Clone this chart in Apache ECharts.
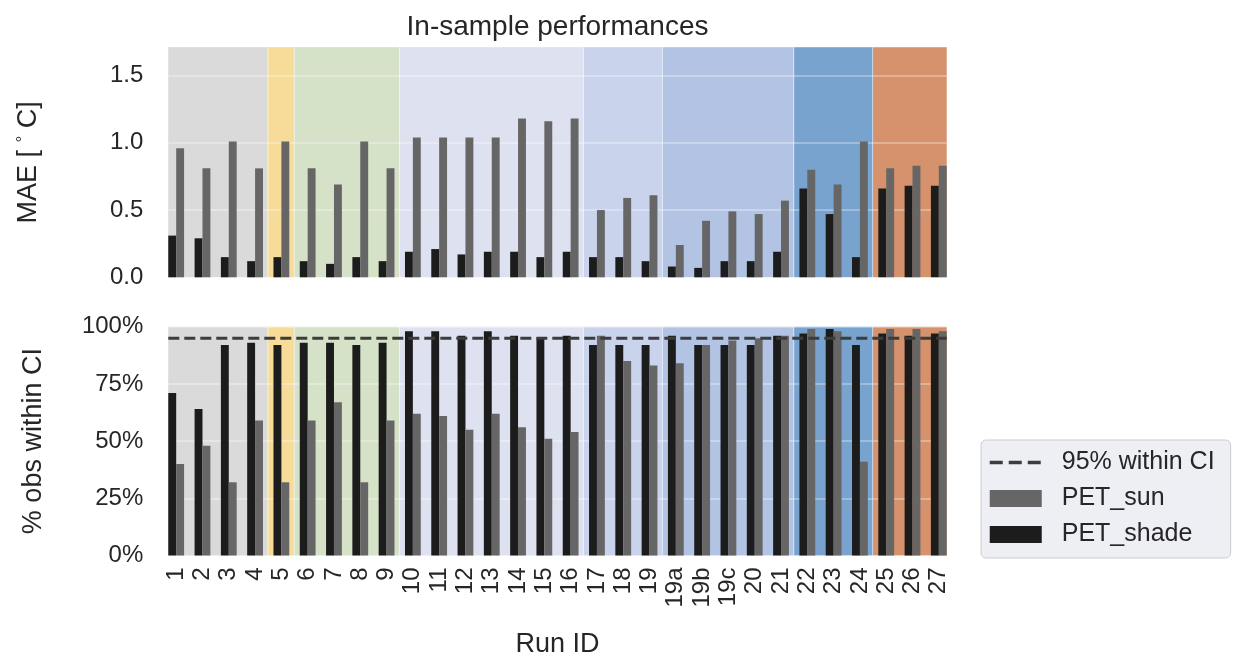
<!DOCTYPE html>
<html>
<head>
<meta charset="utf-8">
<title>In-sample performances</title>
<script src="https://cdn.jsdelivr.net/npm/echarts@6/dist/echarts.min.js"></script>
<style>
  html, body { margin: 0; padding: 0; background: #ffffff; }
  #chart { width: 1233px; height: 654px; }
</style>
</head>
<body>
<div id="chart"></div>
<script>
// Run identifiers along the x axis
const runIds = ['1', '2', '3', '4', '5', '6', '7', '8', '9', '10', '11', '12', '13', '14', '15', '16',
  '17', '18', '19', '19a', '19b', '19c', '20', '21', '22', '23', '24', '25', '26', '27'];

// Mean absolute error [°C]
const maeShade = [0.31, 0.29, 0.15, 0.12, 0.15, 0.12, 0.10, 0.15, 0.12, 0.19, 0.21, 0.17, 0.19, 0.19, 0.15, 0.19,
  0.15, 0.15, 0.12, 0.08, 0.07, 0.12, 0.12, 0.19, 0.66, 0.47, 0.15, 0.66, 0.68, 0.68];
const maeSun = [0.96, 0.81, 1.01, 0.81, 1.01, 0.81, 0.69, 1.01, 0.81, 1.04, 1.04, 1.04, 1.04, 1.18, 1.16, 1.18,
  0.50, 0.59, 0.61, 0.24, 0.42, 0.49, 0.47, 0.57, 0.80, 0.69, 1.01, 0.81, 0.83, 0.83];

// Share of observations inside the confidence interval
const ciShade = [0.71, 0.64, 0.92, 0.93, 0.92, 0.93, 0.93, 0.92, 0.93, 0.98, 0.98, 0.96, 0.98, 0.96, 0.95, 0.96,
  0.92, 0.92, 0.92, 0.96, 0.92, 0.92, 0.92, 0.96, 0.97, 0.99, 0.92, 0.97, 0.96, 0.97];
const ciSun = [0.40, 0.48, 0.32, 0.59, 0.32, 0.59, 0.67, 0.32, 0.59, 0.62, 0.61, 0.55, 0.62, 0.56, 0.51, 0.54,
  0.96, 0.85, 0.83, 0.84, 0.92, 0.94, 0.95, 0.96, 0.99, 0.98, 0.41, 0.99, 0.99, 0.98];

// Target coverage
const ciTarget = 0.95;

// First run of each group of runs (shaded bands)
const groupFirstRuns = ['1', '5', '6', '10', '17', '19a', '22', '25'];

// Tick values
const maeTicks = [0, 0.5, 1.0, 1.5];
const ciTicks = [0, 0.25, 0.5, 0.75, 1.0];

// ---- styling ----
const bandColors = ['#DADADA', '#F6DC98', '#D5E2C8', '#DEE2F0', '#C9D3EB', '#B2C3E4', '#78A3CE', '#D6926C'];
const FONT = "'Liberation Sans', Arial, sans-serif";
const TXT = '#262626';
const X_MIN = -0.3, X_MAX = runIds.length - 1 + 0.3;

// group index ranges [first, last, group]
const groupRanges = groupFirstRuns.map((r, i) => {
  const a = runIds.indexOf(r);
  const b = i + 1 < groupFirstRuns.length ? runIds.indexOf(groupFirstRuns[i + 1]) - 1 : runIds.length - 1;
  return [a, b, i];
});

const xIdx = runIds.map((_, i) => i);
const pairs = (vals) => vals.map((v, i) => [i, v]);

function bandSeries(g) {
  return {
    type: 'custom',
    xAxisIndex: g, yAxisIndex: g,
    z: 1, silent: true,
    encode: { x: [0, 1] },
    data: groupRanges,
    renderItem(params, api) {
      const cs = params.coordSys;
      const x0 = Math.max(api.value(0) - 0.5, X_MIN);
      const x1 = Math.min(api.value(1) + 0.5, X_MAX);
      const left = api.coord([x0, 0])[0];
      const right = api.coord([x1, 0])[0];
      const k = api.value(2);
      const children = [{
        type: 'rect',
        shape: { x: left, y: cs.y, width: right - left, height: cs.height },
        style: { fill: bandColors[k] }
      }];
      if (k < groupRanges.length - 1) {
        children.push({
          type: 'line',
          shape: { x1: right, y1: cs.y, x2: right, y2: cs.y + cs.height },
          style: { stroke: 'rgba(255,255,255,0.75)', lineWidth: 1.5 }
        });
      }
      return { type: 'group', children };
    }
  };
}

function xAxisFor(g, showLabels) {
  return {
    type: 'value', gridIndex: g, min: X_MIN, max: X_MAX,
    axisLine: { show: false }, axisTick: { show: false }, splitLine: { show: false },
    axisLabel: {
      show: showLabels,
      customValues: xIdx,
      formatter: (v) => runIds[Math.round(v)],
      rotate: 90, margin: 12,
      fontSize: 24, color: TXT, fontFamily: FONT
    },
    name: showLabels ? 'Run ID' : '',
    nameLocation: 'middle', nameGap: 76,
    nameTextStyle: { fontSize: 27, color: TXT, fontFamily: FONT }
  };
}

const chart = echarts.init(document.getElementById('chart'), null, { renderer: 'canvas' });

const option = {
  backgroundColor: '#ffffff',
  animation: false,
  title: {
    text: 'In-sample performances',
    left: 557.5, top: 13, padding: 0, textAlign: 'center',
    textStyle: { fontSize: 28, fontWeight: 'normal', color: TXT, fontFamily: FONT }
  },
  legend: {
    orient: 'vertical',
    left: 981, top: 440,
    data: [
      { name: '95% within CI', itemStyle: { opacity: 0 }, lineStyle: { width: 3.5, type: [13, 6], color: '#3C3C3C' } },
      { name: 'PET_sun', icon: 'rect' },
      { name: 'PET_shade', icon: 'rect' }
    ],
    itemWidth: 52, itemHeight: 17, itemGap: 9,
    textStyle: { fontSize: 25, color: TXT, fontFamily: FONT, padding: [0, 0, 0, 15], lineHeight: 27 },
    backgroundColor: 'rgba(234,234,242,0.8)',
    borderColor: '#CCCCCC', borderWidth: 1, borderRadius: 5,
    padding: [9, 16, 10, 7]
  },
  grid: [
    { left: 168.3, right: 286.3, top: 47.3, height: 230, outerBoundsMode: 'none', containLabel: false,
      show: true, backgroundColor: '#EAEAF2', borderWidth: 0 },
    { left: 168.3, right: 286.3, top: 326.7, height: 228.8, outerBoundsMode: 'none', containLabel: false,
      show: true, backgroundColor: '#EAEAF2', borderWidth: 0 }
  ],
  xAxis: [xAxisFor(0, false), xAxisFor(1, true)],
  yAxis: [
    {
      type: 'value', gridIndex: 0, min: 0, max: 1.71, z: 2,
      axisLine: { show: false },
      axisTick: { show: false, customValues: maeTicks },
      splitLine: { show: true, lineStyle: { color: 'rgba(255,255,255,0.4)', width: 1.5 } },
      axisLabel: {
        customValues: maeTicks, formatter: (v) => v.toFixed(1),
        margin: 25, fontSize: 24, color: TXT, fontFamily: FONT
      },
      name: '{t|MAE [ }{s|°}{t| C]}',
      nameLocation: 'middle', nameGap: 126, nameRotate: 90,
      nameTextStyle: {
        color: TXT, fontFamily: FONT, fontSize: 27,
        rich: {
          t: { fontSize: 27, color: TXT, fontFamily: FONT },
          s: { fontSize: 17, color: TXT, fontFamily: FONT, verticalAlign: 'top', padding: [0, 0, 10, 0] }
        }
      }
    },
    {
      type: 'value', gridIndex: 1, min: 0, max: 1, interval: 0.25, z: 2,
      axisLine: { show: false }, axisTick: { show: false },
      splitLine: { show: true, lineStyle: { color: 'rgba(255,255,255,0.4)', width: 1.5 } },
      axisLabel: {
        customValues: ciTicks, formatter: (v) => Math.round(v * 100) + '%',
        margin: 25, fontSize: 24, color: TXT, fontFamily: FONT
      },
      name: '% obs within CI',
      nameLocation: 'middle', nameGap: 121,
      nameTextStyle: { color: TXT, fontFamily: FONT, fontSize: 27 }
    }
  ],
  series: [
    bandSeries(0),
    bandSeries(1),
    {
      name: 'PET_shade', type: 'bar', xAxisIndex: 0, yAxisIndex: 0, z: 3,
      data: pairs(maeShade), barWidth: 7.9, barGap: '0%',
      itemStyle: { color: '#1C1C1C' }
    },
    {
      name: 'PET_sun', type: 'bar', xAxisIndex: 0, yAxisIndex: 0, z: 3,
      data: pairs(maeSun), barWidth: 7.9, barGap: '0%',
      itemStyle: { color: '#666666' }
    },
    {
      name: 'PET_shade', type: 'bar', xAxisIndex: 1, yAxisIndex: 1, z: 3,
      data: pairs(ciShade), barWidth: 7.9, barGap: '0%',
      itemStyle: { color: '#1C1C1C' }
    },
    {
      name: 'PET_sun', type: 'bar', xAxisIndex: 1, yAxisIndex: 1, z: 3,
      data: pairs(ciSun), barWidth: 7.9, barGap: '0%',
      itemStyle: { color: '#666666' }
    },
    {
      name: '95% within CI', type: 'line', xAxisIndex: 1, yAxisIndex: 1, z: 4,
      data: [[X_MIN, ciTarget], [X_MAX, ciTarget]],
      symbol: 'none', silent: true,
      lineStyle: { color: '#3C3C3C', width: 3, type: [11, 5] },
      itemStyle: { color: '#3C3C3C' }
    }
  ]
};

chart.setOption(option);
</script>
</body>
</html>
